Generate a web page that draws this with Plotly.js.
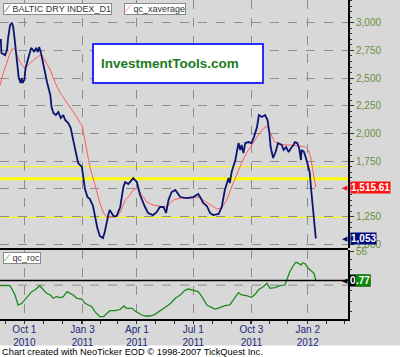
<!DOCTYPE html>
<html>
<head>
<meta charset="utf-8">
<script src="https://cdn.plot.ly/plotly-3.0.1.min.js"></script>
<style>html,body{margin:0;padding:0;background:#d8d8d8;}#chart{width:400px;height:357px;}</style>
</head>
<body>
<div id="chart"></div>
<script>
// ---- data ----
const bdiDates = ['2010-08-24','2010-08-25','2010-08-31','2010-09-03','2010-09-05','2010-09-08','2010-09-11','2010-09-13','2010-09-15','2010-09-17','2010-09-20','2010-09-22','2010-09-25','2010-09-27','2010-09-28','2010-10-01','2010-10-03','2010-10-06','2010-10-09','2010-10-12','2010-10-15','2010-10-17','2010-10-20','2010-10-23','2010-10-25','2010-10-28','2010-10-31','2010-11-03','2010-11-07','2010-11-12','2010-11-14','2010-11-17','2010-11-21','2010-11-25','2010-11-29','2010-12-03','2010-12-06','2010-12-11','2010-12-15','2010-12-19','2010-12-24','2010-12-27','2011-01-02','2011-01-04','2011-01-07','2011-01-11','2011-01-15','2011-01-20','2011-01-23','2011-01-27','2011-01-31','2011-02-05','2011-02-08','2011-02-11','2011-02-14','2011-02-16','2011-02-19','2011-02-22','2011-02-27','2011-03-05','2011-03-10','2011-03-13','2011-03-18','2011-03-24','2011-03-26','2011-04-01','2011-04-06','2011-04-14','2011-04-19','2011-04-27','2011-05-03','2011-05-08','2011-05-14','2011-05-18','2011-05-22','2011-05-27','2011-06-02','2011-06-10','2011-06-20','2011-07-01','2011-07-09','2011-07-13','2011-07-17','2011-07-23','2011-07-28','2011-08-02','2011-08-11','2011-08-16','2011-08-21','2011-08-27','2011-08-29','2011-09-01','2011-09-07','2011-09-12','2011-09-15','2011-09-17','2011-09-20','2011-09-23','2011-09-28','2011-10-03','2011-10-07','2011-10-12','2011-10-15','2011-10-20','2011-10-25','2011-10-29','2011-11-01','2011-11-03','2011-11-07','2011-11-11','2011-11-15','2011-11-21','2011-11-24','2011-11-28','2011-12-02','2011-12-06','2011-12-10','2011-12-12','2011-12-16','2011-12-19','2011-12-22','2011-12-23','2011-12-27','2011-12-31','2012-01-05','2012-01-08','2012-01-11','2012-01-14','2012-01-15'];
const bdiValues = [2853,2727,2708,2754,2871,2979,3000,2961,2871,2754,2636,2501,2456,2501,2456,2483,2591,2645,2708,2772,2754,2736,2772,2736,2781,2727,2645,2555,2456,2348,2239,2185,2167,2194,2140,2167,2122,2095,2050,1941,1824,1734,1698,1598,1499,1427,1409,1346,1246,1147,1075,1057,1111,1201,1274,1310,1283,1255,1255,1337,1517,1562,1544,1580,1598,1562,1445,1337,1283,1264,1292,1337,1337,1283,1400,1472,1490,1427,1418,1427,1454,1418,1373,1346,1283,1264,1274,1337,1490,1598,1553,1653,1761,1914,1851,1896,1824,1914,1923,1914,1968,2059,2167,2149,2167,2122,2005,1878,1779,1833,1914,1896,1851,1878,1833,1869,1896,1923,1914,1869,1761,1851,1833,1761,1653,1463,1310,1156,1053];

const avgDates = ['2010-08-23','2010-08-28','2010-09-03','2010-09-08','2010-09-13','2010-09-16','2010-09-21','2010-09-27','2010-10-02','2010-10-07','2010-10-16','2010-10-24','2010-10-29','2010-11-03','2010-11-12','2010-11-20','2010-11-28','2010-12-09','2010-12-17','2010-12-25','2010-12-30','2011-01-02','2011-01-04','2011-01-10','2011-01-15','2011-01-21','2011-01-26','2011-01-31','2011-02-06','2011-02-11','2011-02-16','2011-02-25','2011-03-02','2011-03-06','2011-03-13','2011-03-18','2011-03-26','2011-04-01','2011-04-09','2011-04-17','2011-04-27','2011-05-08','2011-05-16','2011-05-22','2011-05-30','2011-06-10','2011-06-26','2011-07-09','2011-07-17','2011-07-28','2011-08-08','2011-08-16','2011-08-24','2011-09-01','2011-09-09','2011-09-17','2011-09-25','2011-10-03','2011-10-12','2011-10-20','2011-10-28','2011-11-02','2011-11-10','2011-11-18','2011-11-29','2011-12-10','2011-12-21','2011-12-29','2012-01-03','2012-01-07','2012-01-10','2012-01-13','2012-01-15'];
const avgValues = [2438,2546,2645,2727,2772,2754,2681,2618,2591,2618,2663,2699,2708,2663,2573,2456,2366,2275,2212,2149,2095,2077,2023,1851,1698,1580,1463,1373,1283,1246,1246,1246,1264,1301,1400,1427,1490,1508,1445,1382,1355,1346,1337,1355,1400,1418,1418,1427,1400,1355,1319,1328,1400,1517,1626,1734,1824,1896,1968,2032,2068,2005,1923,1905,1896,1896,1887,1878,1851,1779,1671,1580,1515.61];

const rocDates = ['2010-08-23','2010-09-08','2010-09-16','2010-09-21','2010-09-27','2010-10-02','2010-10-07','2010-10-13','2010-10-18','2010-10-24','2010-10-26','2010-11-01','2010-11-06','2010-11-12','2010-11-17','2010-11-22','2010-11-28','2010-12-03','2010-12-09','2010-12-14','2010-12-19','2010-12-25','2011-01-02','2011-01-07','2011-01-12','2011-01-18','2011-01-23','2011-01-31','2011-02-06','2011-02-11','2011-02-16','2011-02-25','2011-03-05','2011-03-11','2011-03-15','2011-03-24','2011-03-29','2011-04-03','2011-04-09','2011-04-14','2011-04-22','2011-04-30','2011-05-08','2011-05-16','2011-05-22','2011-05-27','2011-06-02','2011-06-10','2011-06-18','2011-06-23','2011-07-01','2011-07-09','2011-07-15','2011-07-23','2011-07-28','2011-08-05','2011-08-13','2011-08-21','2011-08-29','2011-09-07','2011-09-12','2011-09-17','2011-09-25','2011-10-03','2011-10-09','2011-10-14','2011-10-22','2011-10-28','2011-11-02','2011-11-10','2011-11-18','2011-11-26','2011-11-30','2011-12-04','2011-12-10','2011-12-14','2011-12-18','2011-12-22','2011-12-25','2011-12-29','2012-01-03','2012-01-08','2012-01-12','2012-01-15'];
const rocValues = [-10.1,-9.9,-27.8,-46.8,-43.6,-37.3,-31.0,-21.5,-18.3,-12.0,-10.1,-18.3,-24.6,-27.8,-34.1,-31.0,-32.9,-31.0,-21.5,-24.6,-27.8,-34.1,-35.4,-43.6,-46.8,-50.1,-59.6,-69.1,-69.1,-62.6,-57.7,-57.7,-55.0,-48.7,-53.1,-53.1,-58.3,-61.5,-65.9,-67.8,-67.8,-64.6,-58.3,-53.1,-46.8,-41.7,-34.1,-27.8,-18.3,-16.4,-18.3,-21.5,-31.0,-46.8,-50.1,-54.5,-52.0,-48.2,-46.8,-31.0,-23.4,-27.8,-29.1,-32.2,-26.5,-18.3,-12.0,-5.5,-15.0,-13.9,-10.1,-8.8,4.0,16.6,29.3,34.5,32.6,29.3,33.7,31.2,23.1,16.6,13.5,0.77];

const tickDates = ['2010-10-01','2011-01-03','2011-04-01','2011-07-01','2011-10-03','2012-01-02'];
const tickLabels = ['Oct 1<br>2010','Jan 3<br>2011','Apr 1<br>2011','Jul 1<br>2011','Oct 3<br>2011','Jan 2<br>2012'];
const priceTickVals = [1000,1250,1500,1750,2000,2250,2500,2750,3000];
const priceTickText = ['1,000','1,250','','1,750','2,000','2,250','2,500','2,750','3,000'];
const yellowLevels = [1700, 1592, 1245];
const yellowWidths = [1, 3, 1];
const rocTickVals = [56];

// ---- chart ----
const FONT = 'Liberation Sans, Arial, sans-serif';
const W = 348, H = 319; // plot-area pixel size
const px = v => v / W;
const py = v => 1 - v / H;

const traces = [
  {x: avgDates, y: avgValues, xaxis: 'x', yaxis: 'y', mode: 'lines', line: {color: '#ff5c5c', width: 1}, hoverinfo: 'skip'},
  {x: bdiDates, y: bdiValues, xaxis: 'x', yaxis: 'y', mode: 'lines', line: {color: '#0b1570', width: 1.8}, hoverinfo: 'skip'},
  {x: rocDates, y: rocValues, xaxis: 'x', yaxis: 'y2', mode: 'lines', line: {color: '#1d8a1d', width: 1.3}, hoverinfo: 'skip'}
];

const shapes = [];
yellowLevels.forEach((lv, i) => shapes.push({type: 'line', xref: 'paper', x0: 0, x1: 1, yref: 'y', y0: lv, y1: lv, line: {color: '#ffff00', width: yellowWidths[i]}, layer: 'below'}));
shapes.push({type: 'line', xref: 'paper', x0: 0, x1: 1, yref: 'y2', y0: 0, y1: 0, line: {color: '#000', width: 1.5}});
shapes.push({type: 'line', xref: 'paper', x0: 0, x1: 1, yref: 'y2', y0: -9, y1: -9, line: {color: '#8c8c8c', width: 1, dash: 'dash'}, layer: 'below'});
shapes.push({type: 'line', xref: 'paper', x0: 0, x1: 1, yref: 'paper', y0: py(249), y1: py(249), line: {color: '#000', width: 2}});
shapes.push({type: 'rect', xref: 'paper', yref: 'paper', x0: px(93), x1: px(263), y0: py(83), y1: py(44), fillcolor: '#ffffff', line: {color: '#2a2aff', width: 2}});
shapes.push({type: 'rect', xref: 'paper', yref: 'paper', x0: 0, x1: 400 / W, y0: py(360), y1: py(345.5), fillcolor: '#ffffff', line: {width: 0}, layer: 'below'});

const fmt = v => v.toLocaleString('en-US');
const lastBdi = bdiValues[bdiValues.length - 1];
const lastAvg = avgValues[avgValues.length - 1];
const lastRoc = rocValues[rocValues.length - 1];

const legendBox = (txt, col, x, y) => ({
  xref: 'paper', yref: 'paper', x: x, y: y, xanchor: 'left', yanchor: 'top', showarrow: false,
  text: '<span style="color:' + col + '">⟋</span> ' + txt,
  font: {family: FONT, size: 9, color: '#333'}, bgcolor: '#ffffff', bordercolor: '#8a8a8a', borderwidth: 1, borderpad: 0
});
const valueBox = (val, txt, yref, bg) => ([
  {xref: 'paper', yref: yref, x: 1 + px(2), y: val, xanchor: 'right', yanchor: 'middle', showarrow: false,
   text: '◀', font: {family: FONT, size: 7, color: bg}},
  {xref: 'paper', yref: yref, x: 1 + px(2), y: val, xanchor: 'left', yanchor: 'middle', showarrow: false,
   text: '<b>' + txt + '</b>', font: {family: FONT, size: 10, color: '#ffffff'}, bgcolor: bg, borderpad: 0}
]);

const annotations = [
  legendBox('BALTIC DRY INDEX_D1', '#0b1570', px(3), py(2.7)),
  legendBox('qc_xaverage', '#ff5c5c', px(124), py(2.7)),
  legendBox('qc_roc', '#1d8a1d', px(3), py(252.3)),
  {xref: 'paper', yref: 'paper', x: px(170), y: py(63.5), xanchor: 'center', yanchor: 'middle', showarrow: false,
   text: '<b>InvestmentTools.com</b>', font: {family: FONT, size: 13.5, color: '#1c7a1c'}},
  {xref: 'paper', yref: 'paper', x: 0, y: py(351.5), xanchor: 'left', yanchor: 'middle', showarrow: false,
   text: 'Chart created with NeoTicker EOD © 1998-2007 TickQuest Inc.', font: {family: FONT, size: 9.3, color: '#000'}},
  ...valueBox(lastAvg, fmt(lastAvg), 'y', '#ff1010'),
  ...valueBox(lastBdi, fmt(lastBdi), 'y', '#000a7a'),
  {xref: 'paper', yref: 'y2', x: 1 + px(2), y: lastRoc, xanchor: 'right', yanchor: 'middle', showarrow: false,
   text: '◀', font: {family: FONT, size: 7, color: '#000'}},
  {xref: 'paper', yref: 'y2', x: 1 + px(1), y: lastRoc, xanchor: 'left', yanchor: 'middle', showarrow: false,
   text: '<b>' + fmt(lastRoc) + '</b>', font: {family: FONT, size: 10, color: '#ffffff'}, bgcolor: '#000000', borderpad: 0},
  {xref: 'paper', yref: 'y2', x: 1 + px(23), y: lastRoc, xanchor: 'right', yanchor: 'middle', showarrow: false,
   text: '<b>' + fmt(lastRoc).slice(1) + '</b>', font: {family: FONT, size: 10, color: '#ffffff'}, bgcolor: '#0a8a0a', borderpad: 0}
];

const layout = {
  width: 400, height: 357,
  margin: {l: 0, r: 52, t: 0, b: 38, pad: 0},
  paper_bgcolor: '#d8d8d8', plot_bgcolor: '#d8d8d8',
  showlegend: false,
  font: {family: FONT, size: 10},
  xaxis: {
    type: 'date', range: ['2010-08-22 17:00', '2012-03-07'], anchor: 'y2',
    tickmode: 'array', tickvals: tickDates, ticktext: tickLabels,
    tickfont: {family: FONT, size: 10, color: '#1c2a7a'},
    ticks: 'outside', ticklen: 3, tickcolor: '#333', ticklabelstandoff: -3,
    showline: true, linecolor: '#000', linewidth: 2,
    showgrid: true, gridcolor: '#8c8c8c', griddash: 'dash', gridwidth: 1,
    minor: {tickmode: 'linear', tick0: '2010-08-01', dtick: 'M1', ticks: 'outside', ticklen: 3, tickcolor: '#333', showgrid: false},
    zeroline: false, fixedrange: true
  },
  yaxis: {
    domain: [py(248), 1], range: [967, 3205], side: 'right', anchor: 'x',
    tickmode: 'array', tickvals: priceTickVals, ticktext: priceTickText,
    tickfont: {family: FONT, size: 10, color: '#6a8f3c'},
    ticks: 'outside', ticklen: 4, tickcolor: '#333',
    showline: true, linecolor: '#000', linewidth: 2,
    showgrid: true, gridcolor: '#8c8c8c', griddash: 'dash', gridwidth: 1,
    minor: {tickmode: 'linear', tick0: 0, dtick: 50, ticks: 'outside', ticklen: 2, tickcolor: '#333', showgrid: false},
    zeroline: false, fixedrange: true
  },
  yaxis2: {
    domain: [0, py(250)], range: [-73.5, 57.9], side: 'right', anchor: 'x',
    tickmode: 'array', tickvals: rocTickVals,
    tickfont: {family: FONT, size: 10, color: '#6a8f3c'},
    ticks: 'outside', ticklen: 4, tickcolor: '#333',
    showline: true, linecolor: '#000', linewidth: 2,
    showgrid: false,
    minor: {tickmode: 'linear', tick0: 0, dtick: 20, ticks: 'outside', ticklen: 2, tickcolor: '#333', showgrid: false},
    zeroline: false, fixedrange: true
  },
  shapes: shapes,
  annotations: annotations
};

Plotly.newPlot('chart', traces, layout, {displayModeBar: false, staticPlot: true});
</script>
</body>
</html>
